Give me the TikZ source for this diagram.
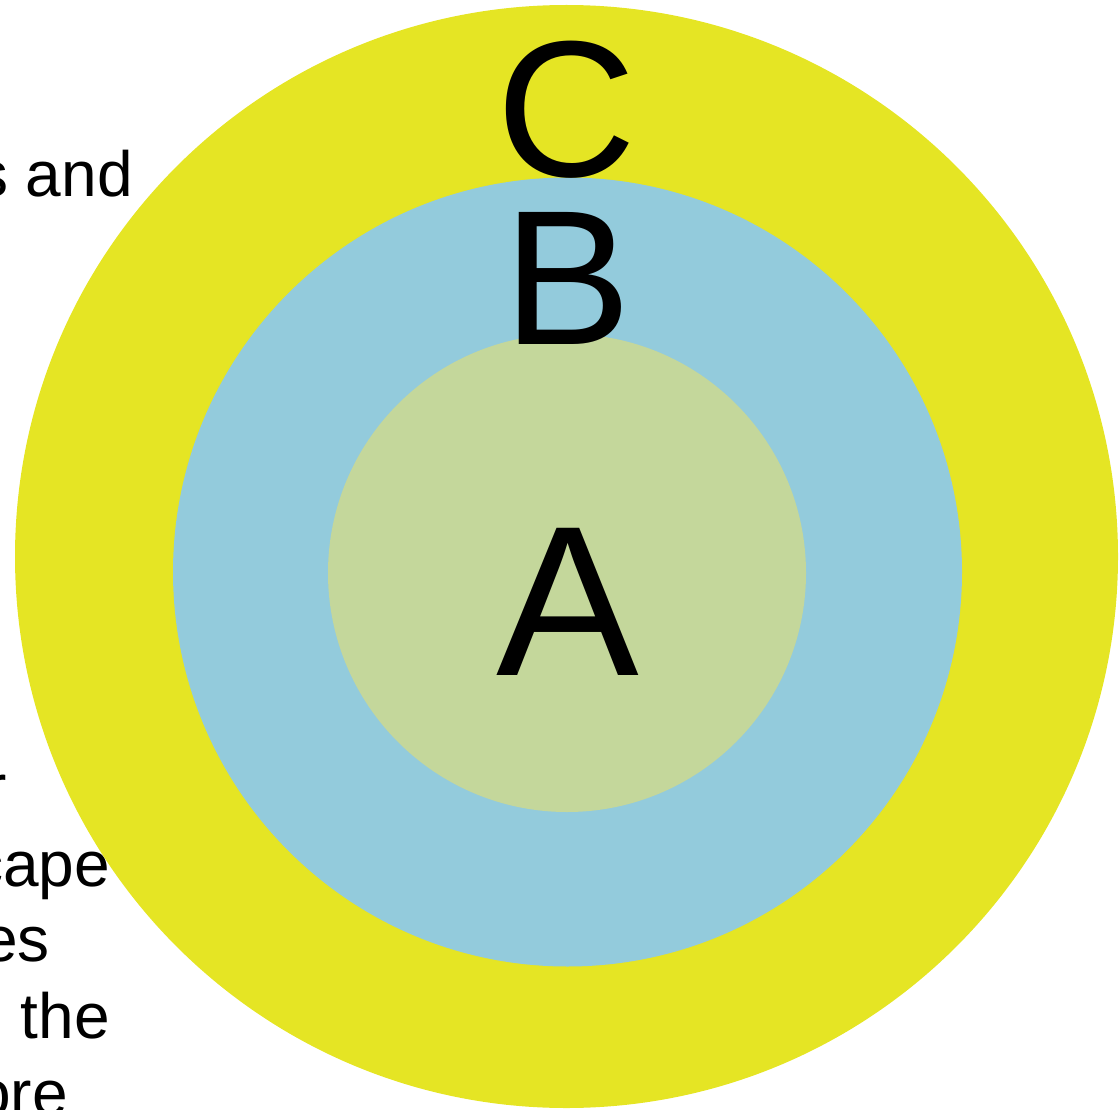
\documentclass[tikz,border=0pt]{standalone}
\usepackage{fontspec}
\setmainfont{Liberation Sans}
\definecolor{ringyellow}{HTML}{E5E524}
\definecolor{ringblue}{HTML}{93CBDC}
\definecolor{coregreen}{HTML}{C4D79B}

\begin{document}
\begin{tikzpicture}[x=1pt, y=-1pt,
    ring/.style={circle, draw=none, inner sep=0pt},
    setlabel/.style={inner sep=0pt, anchor=base},
    bodytext/.style={inner sep=0pt, anchor=base east,
      font=\fontsize{64}{77}\selectfont}]
  \useasboundingbox (0, 0) rectangle (1119, 1110);
  \clip (0, 0) rectangle (1119, 1110);

  % text running behind the rings
  \node[bodytext] (line1) at (133, 197) {s and};
  \node[bodytext] (line2) at (7, 809) {r};
  \node[bodytext] (line3) at (110, 886) {cape};
  \node[bodytext] (line4) at (50, 961) {es};
  \node[bodytext] (line5) at (110, 1038) {e the};
  \node[bodytext] (line6) at (68, 1115) {ore};

  % nested sets
  \node[ring, fill=ringyellow, minimum size=1103pt] (ringC) at (566.5, 556.5) {};
  \node[ring, fill=ringblue, minimum size=789pt] (ringB) at (567.5, 572) {};
  \node[ring, fill=coregreen, minimum size=478pt] (coreA) at (567, 573) {};

  \node[setlabel, font=\fontsize{194}{194}\selectfont] (labelC) at (567, 177) {C};
  \node[setlabel, font=\fontsize{192}{192}\selectfont] (labelB) at (568, 344) {B};
  \node[setlabel, font=\fontsize{214}{214}\selectfont] (labelA) at (567.5, 675) {A};
\end{tikzpicture}
\end{document}
